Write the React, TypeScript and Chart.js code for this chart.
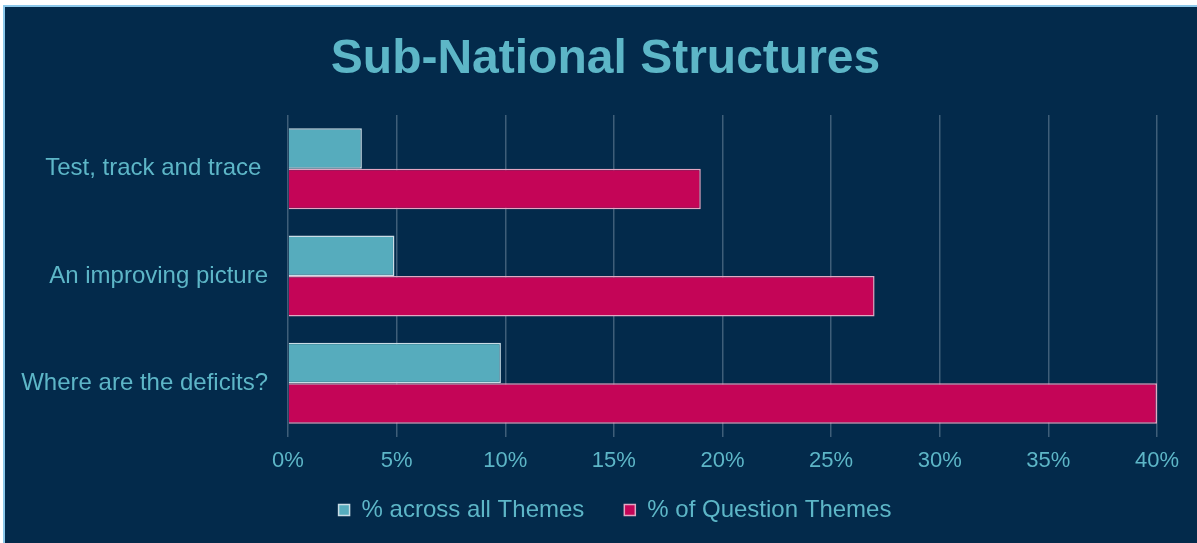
import React, { useEffect, useRef } from "react";
import { Chart, registerables } from "chart.js";

Chart.register(...registerables);

const categories = ["Test, track and trace ", "An improving picture", "Where are the deficits?"];
const acrossAllThemes = [3.4, 4.9, 9.8];
const ofQuestionThemes = [19, 27, 40];
const xTicks = [0, 5, 10, 15, 20, 25, 30, 35, 40];

const TEXT = "#5db6c7";
const BG = "#032a4b";
const FONT = "'Liberation Sans', Arial, sans-serif";

const placeBlocks = {
  id: "placeBlocks",
  afterLayout(chart: any) {
    const t = chart.titleBlock;
    if (t) {
      t.left = 0;
      t.right = 1201;
    }
    const l = chart.legend;
    if (l) {
      l.top = 451;
      l.bottom = 536;
      l.left = 0;
      l.right = 1220;
    }
  },
};

export default function App() {
  const ref = useRef<HTMLCanvasElement | null>(null);

  useEffect(() => {
    document.body.style.margin = "0";
    const canvas = ref.current;
    if (!canvas) return;
    const chart = new Chart(canvas, {
      type: "bar",
      data: {
        labels: categories,
        datasets: [
          {
            label: "% across all Themes",
            data: acrossAllThemes,
            backgroundColor: "#56acbd",
            borderColor: "#c9dde6",
            borderWidth: 1.5,
            categoryPercentage: 0.755,
            barPercentage: 1,
          },
          {
            label: "% of Question Themes",
            data: ofQuestionThemes,
            backgroundColor: "#c40557",
            borderColor: "#e3a6c2",
            borderWidth: 1.5,
            categoryPercentage: 0.755,
            barPercentage: 1,
          },
        ],
      },
      options: {
        indexAxis: "y",
        animation: false,
        responsive: false,
        maintainAspectRatio: false,
        layout: { padding: { left: 0, right: 40, top: 0, bottom: 56.6 } },
        scales: {
          x: {
            min: 0,
            max: 40,
            afterBuildTicks: (scale: any) => {
              scale.ticks = xTicks.map((v) => ({ value: v }));
            },
            ticks: {
              color: TEXT,
              font: { family: FONT, size: 22 },
              padding: 11,
              callback: (v: any) => v + "%",
            },
            grid: { color: "rgba(190,205,220,0.32)", lineWidth: 1.5, drawTicks: false },
            border: { display: false },
          },
          y: {
            afterFit: (scale: any) => {
              scale.width = 283;
            },
            ticks: {
              color: TEXT,
              font: { family: FONT, size: 24 },
              padding: 20,
            },
            grid: { display: false, drawTicks: false },
            border: { display: false },
          },
        },
        plugins: {
          title: {
            display: true,
            text: "Sub-National Structures",
            color: TEXT,
            font: { family: FONT, size: 48, weight: "bold" },
            padding: { top: 24, bottom: 26.5 },
          },
          legend: {
            position: "bottom",
            maxHeight: 1,
            labels: {
              color: TEXT,
              font: { family: FONT, size: 24 },
              boxWidth: 11,
              boxHeight: 11,
              padding: 40,
            },
          },
          tooltip: { enabled: false },
        },
      },
      plugins: [placeBlocks],
    });
    return () => chart.destroy();
  }, []);

  return (
    <div style={{ position: "fixed", left: 0, top: 0, width: 1197, height: 543, background: "#ffffff" }}>
      <div
        style={{
          position: "absolute",
          left: 3,
          top: 5,
          width: 1194,
          height: 538,
          borderTop: "2px solid #8cc8ea",
          borderLeft: "2px solid #8cc8ea",
          background: BG,
        }}
      >
        <canvas ref={ref} width={1192} height={536} style={{ display: "block" }} />
      </div>
    </div>
  );
}
